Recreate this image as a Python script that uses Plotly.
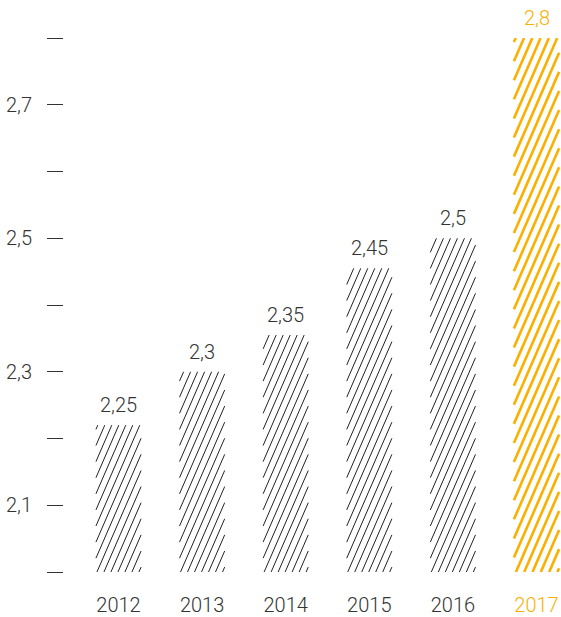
import math
import plotly.graph_objects as go

# ---- data ----
years = ["2012", "2013", "2014", "2015", "2016", "2017"]
bar_values = [2.22, 2.30, 2.355, 2.455, 2.50, 2.80]
value_labels = ["2,25", "2,3", "2,35", "2,45", "2,5", "2,8"]
y_tick_values = [2.0, 2.1, 2.2, 2.3, 2.4, 2.5, 2.6, 2.7, 2.8]
y_tick_labels = ["", "2,1", "", "2,3", "", "2,5", "", "2,7", ""]

# ---- styling / layout constants ----
W, H = 561, 617
M_L, M_R, M_T, M_B = 64, 0, 38, 45
X_RANGE = [-0.652, 5.293]
Y_RANGE = [2.0, 2.8]
BAR_W = 0.54
DARK = "#333333"
AMBER = "#F9B000"
FONT = "Roboto"
FSIZE = 20

plot_w = W - M_L - M_R
plot_h = H - M_T - M_B
sx = plot_w / (X_RANGE[1] - X_RANGE[0])
sy = plot_h / (Y_RANGE[1] - Y_RANGE[0])


def hatch(center, top, base, spacing_px, slope, offset_px=0.0):
    """Diagonal hatch segments clipped to a bar rectangle, in data units."""
    wpx = BAR_W * sx
    hpx = (top - base) * sy
    xs, ys = [], []
    j = math.floor((-hpx / slope - offset_px) / spacing_px) - 1
    while True:
        x0 = offset_px + j * spacing_px
        if x0 > wpx:
            break
        ylo = max(0.0, -x0 * slope)
        yhi = min(hpx, (wpx - x0) * slope)
        if yhi > ylo:
            for yy in (ylo, yhi):
                xx = x0 + yy / slope
                xs.append(center - BAR_W / 2 + xx / sx)
                ys.append(base + yy / sy)
            xs.append(None)
            ys.append(None)
        j += 1
    return xs, ys


fig = go.Figure()
xpos = list(range(len(years)))

fig.add_trace(go.Bar(
    x=xpos, y=[v - Y_RANGE[0] for v in bar_values], base=Y_RANGE[0],
    width=BAR_W, marker=dict(color="rgba(0,0,0,0)", line=dict(width=0)),
    hoverinfo="skip", showlegend=False,
))

bx, by = [], []
for i, v in enumerate(bar_values[:-1]):
    xs, ys = hatch(xpos[i], v, Y_RANGE[0], 7.0, 2.3, 1.0)
    bx += xs
    by += ys
fig.add_trace(go.Scatter(x=bx, y=by, mode="lines",
                         line=dict(color="#222222", width=1),
                         hoverinfo="skip", showlegend=False))

ox, oy = hatch(xpos[-1], bar_values[-1], Y_RANGE[0], 8.3, 2.3, 2.0)
fig.add_trace(go.Scatter(x=ox, y=oy, mode="lines",
                         line=dict(color=AMBER, width=2.6),
                         hoverinfo="skip", showlegend=False))

for i, (v, t) in enumerate(zip(bar_values, value_labels)):
    fig.add_annotation(
        x=xpos[i], y=v, text=t, showarrow=False, yanchor="bottom",
        yshift=6, font=dict(family=FONT, size=FSIZE, weight=300,
                            color=AMBER if i == len(years) - 1 else DARK),
    )

tick_text_x = [y if i < len(years) - 1 else f"<span style='color:{AMBER}'>{y}</span>"
               for i, y in enumerate(years)]

fig.update_layout(
    width=W, height=H,
    margin=dict(l=M_L, r=M_R, t=M_T, b=M_B),
    paper_bgcolor="white", plot_bgcolor="white",
    font=dict(family=FONT, size=FSIZE, weight=300, color=DARK),
    xaxis=dict(range=X_RANGE, tickvals=xpos, ticktext=tick_text_x,
               showgrid=False, zeroline=False, showline=False, ticks="",
               ticklabelstandoff=19, fixedrange=True),
    yaxis=dict(range=Y_RANGE, tickvals=y_tick_values, ticktext=y_tick_labels,
               showgrid=False, zeroline=False, showline=False,
               ticks="outside", ticklen=16, tickwidth=1.3, tickcolor=DARK,
               ticklabelstandoff=11, fixedrange=True),
    bargap=0,
)

fig.write_html("out.html")
